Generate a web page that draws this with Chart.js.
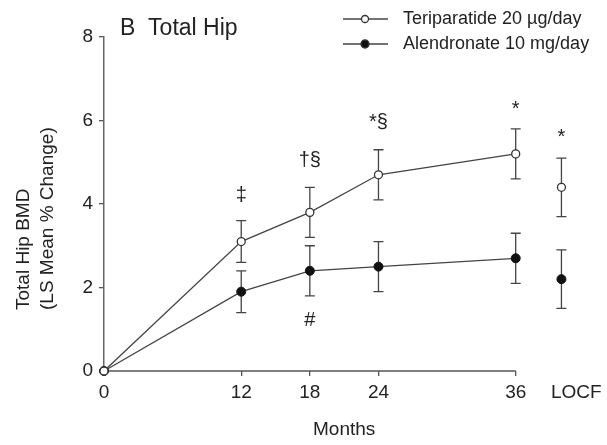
<!DOCTYPE html>
<html>
<head>
<title>Total Hip BMD</title>
<script src="https://cdn.jsdelivr.net/npm/chart.js"></script>
<style>
  html, body { margin: 0; padding: 0; background: #fff; }
  #wrap { width: 607px; height: 445px; }
</style>
</head>
<body>
<div id="wrap"><canvas id="hipChart"></canvas></div>
<script>
// data
var months = [0, 12, 18, 24, 36];
var teriMean = [0, 3.1, 3.8, 4.7, 5.2];
var teriLow = [0, 2.6, 3.2, 4.1, 4.6];
var teriHigh = [0, 3.6, 4.4, 5.3, 5.8];
var alenMean = [0, 1.9, 2.4, 2.5, 2.7];
var alenLow = [0, 1.4, 1.8, 1.9, 2.1];
var alenHigh = [0, 2.4, 3.0, 3.1, 3.3];

// LOCF column: mean, low, high
var locfX = 40;
var teriLocf = [4.4, 3.7, 5.1];
var alenLocf = [2.2, 1.5, 2.9];

var xTicks = [0, 12, 18, 24, 36];
var locfLabelX = 41.3;
var yTicks = [0, 2, 4, 6, 8];

// significance symbols
var markX = [12, 18, 24, 36, 40, 18];
var markY = [4.2, 5.05, 5.95, 6.35, 5.7, 1.2];
var markText = ['\u2021', '\u2020\u00a7', '*\u00a7', '*', '*', '#'];

var seriesNames = ['Teriparatide 20 \u00b5g/day', 'Alendronate 10 mg/day'];

var FONT = '"Liberation Sans", Arial, sans-serif';
var INK = '#222';
var LINE = '#444';

function pts(xs, ys) {
    return xs.map(function (x, i) { return { x: x, y: ys[i] }; });
}

var errorBars = {
    id: 'errorBars',
    beforeDatasetsDraw: function (chart) {
        var c = chart.ctx, xs = chart.scales.x, ys = chart.scales.y;
        function bar(x, lo, hi) {
            var px = xs.getPixelForValue(x);
            var a = ys.getPixelForValue(lo), b = ys.getPixelForValue(hi);
            c.beginPath();
            c.moveTo(px, a); c.lineTo(px, b);
            c.moveTo(px - 5, a); c.lineTo(px + 5, a);
            c.moveTo(px - 5, b); c.lineTo(px + 5, b);
            c.stroke();
        }
        c.save();
        c.strokeStyle = LINE;
        c.lineWidth = 1.3;
        for (var i = 1; i < months.length; i++) {
            bar(months[i], teriLow[i], teriHigh[i]);
            bar(months[i], alenLow[i], alenHigh[i]);
        }
        bar(locfX, teriLocf[1], teriLocf[2]);
        bar(locfX, alenLocf[1], alenLocf[2]);

        // x axis line stops at 36 months
        c.strokeStyle = '#555';
        c.lineWidth = 1.5;
        c.beginPath();
        c.moveTo(xs.getPixelForValue(0), ys.getPixelForValue(0));
        c.lineTo(xs.getPixelForValue(36), ys.getPixelForValue(0));
        c.stroke();
        c.restore();
    },
    afterDraw: function (chart) {
        var c = chart.ctx, xs = chart.scales.x, ys = chart.scales.y;
        c.save();
        c.fillStyle = INK;

        // panel title
        c.font = '23px ' + FONT;
        c.textAlign = 'left';
        c.textBaseline = 'alphabetic';
        c.fillText('B  Total Hip', 120, 35);

        // y axis title, two rotated lines
        c.font = '19px ' + FONT;
        c.textBaseline = 'middle';
        c.translate(24, 310);
        c.rotate(-Math.PI / 2);
        c.fillText('Total Hip BMD', 0, 0);
        c.fillText('(LS Mean % Change)', 0, 24);
        c.setTransform(1, 0, 0, 1, 0, 0);

        // significance marks
        c.font = '20px ' + FONT;
        c.textAlign = 'center';
        for (var i = 0; i < markX.length; i++) {
            var off = markText[i] === '*' ? 4 : 0;
            c.fillText(markText[i], xs.getPixelForValue(markX[i]), ys.getPixelForValue(markY[i]) + off);
        }

        // legend
        var rows = [19, 44];
        c.font = '18px ' + FONT;
        c.textAlign = 'left';
        for (var k = 0; k < 2; k++) {
            var y = rows[k];
            c.strokeStyle = LINE;
            c.lineWidth = 1.3;
            c.beginPath();
            c.moveTo(343, y); c.lineTo(388, y);
            c.stroke();
            c.beginPath();
            c.arc(365, y, k === 0 ? 3.5 : 4, 0, Math.PI * 2);
            c.fillStyle = k === 0 ? '#fff' : '#111';
            c.fill();
            c.strokeStyle = '#333';
            c.stroke();
            c.fillStyle = INK;
            c.fillText(seriesNames[k], 403, y);
        }
        c.restore();
    }
};

var openPt = { pointRadius: 4, pointBackgroundColor: '#fff', pointBorderColor: '#333', pointBorderWidth: 1.3 };
var fullPt = { pointRadius: 4.5, pointBackgroundColor: '#111', pointBorderColor: '#111', pointBorderWidth: 1 };

function ds(label, data, style, line) {
    var d = { label: label, data: data, showLine: line, borderColor: LINE, borderWidth: 1.3, clip: false };
    for (var k in style) d[k] = style[k];
    return d;
}

// first dataset is painted last, so teriparatide (open circles) sits on top
new Chart(document.getElementById('hipChart'), {
    type: 'scatter',
    data: {
        datasets: [
            ds(seriesNames[0], pts(months, teriMean), openPt, true),
            ds(seriesNames[0] + ' LOCF', [{ x: locfX, y: teriLocf[0] }], openPt, false),
            ds(seriesNames[1], pts(months, alenMean), fullPt, true),
            ds(seriesNames[1] + ' LOCF', [{ x: locfX, y: alenLocf[0] }], fullPt, false)
        ]
    },
    options: {
        responsive: true,
        maintainAspectRatio: false,
        animation: false,
        layout: { padding: { top: 37, right: 21, left: 0, bottom: 0 } },
        plugins: { legend: { display: false }, tooltip: { enabled: false } },
        scales: {
            x: {
                type: 'linear', min: 0, max: 42,
                afterBuildTicks: function (s) {
                    s.ticks = xTicks.concat([locfLabelX]).map(function (v) { return { value: v }; });
                },
                afterFit: function (s) { s.height = 74; },
                ticks: {
                    autoSkip: false, maxRotation: 0, padding: 5, color: INK,
                    font: { family: FONT, size: 19 },
                    callback: function (v) { return v === locfLabelX ? 'LOCF' : v; }
                },
                grid: {
                    drawOnChartArea: false, tickLength: 5, lineWidth: 1.3,
                    color: function (ctx) {
                        var v = ctx.tick ? ctx.tick.value : 0;
                        return (v > 36 || v === 0) ? 'rgba(0,0,0,0)' : '#555';
                    }
                },
                border: { display: false },
                title: { display: true, text: 'Months', color: INK, font: { family: FONT, size: 19 }, padding: { top: 2 } }
            },
            y: {
                min: 0, max: 8,
                afterBuildTicks: function (s) {
                    s.ticks = yTicks.map(function (v) { return { value: v }; });
                },
                afterFit: function (s) { s.width = 104; },
                ticks: { padding: 6, color: INK, font: { family: FONT, size: 19 } },
                grid: { drawOnChartArea: false, tickLength: 5, color: '#555', lineWidth: 1.3 },
                border: { display: true, color: '#666', width: 1.5 }
            }
        }
    },
    plugins: [errorBars]
});
</script>
</body>
</html>
